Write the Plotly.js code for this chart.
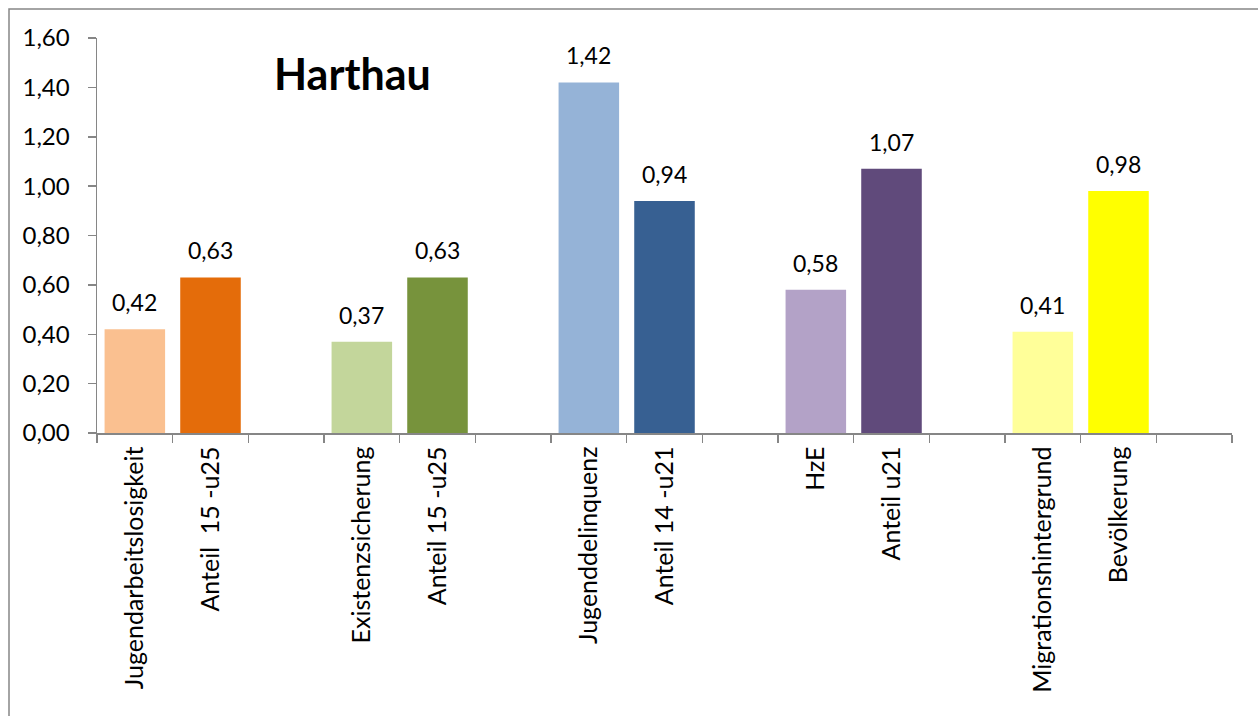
<!DOCTYPE html>
<html>
<head>
<meta charset="utf-8">
<script src="https://cdn.plot.ly/plotly-3.0.1.min.js"></script>
<style>html,body{margin:0;padding:0;background:#fff;}#chart{width:1258px;height:716px;}</style>
</head>
<body>
<div id="chart"></div>
<script>
const categories = ["Jugendarbeitslosigkeit", "Anteil  15 -u25", " ", "Existenzsicherung", "Anteil 15 -u25", "  ", "Jugenddelinquenz", "Anteil 14 -u21", "   ", "HzE", "Anteil u21", "    ", "Migrationshintergrund", "Bevölkerung", "     "];
const values = [0.42, 0.63, null, 0.37, 0.63, null, 1.42, 0.94, null, 0.58, 1.07, null, 0.41, 0.98, null];
const barColors = ["#FAC090", "#E46C0A", "#FFFFFF", "#C3D69B", "#77933C", "#FFFFFF", "#95B3D7", "#376092", "#FFFFFF", "#B3A2C7", "#604A7B", "#FFFFFF", "#FFFF99", "#FFFF00", "#FFFFFF"];
const yTicks = [0, 0.2, 0.4, 0.6, 0.8, 1.0, 1.2, 1.4, 1.6];
const chartTitle = "Harthau";

const FONT = "Lato, 'Open Sans', sans-serif";

const trace = {
  type: "bar",
  x: categories,
  y: values,
  marker: {color: barColors, line: {width: 0}},
  width: 0.8,
  hoverinfo: "skip"
};

const annotations = [];
categories.forEach((c, i) => {
  if (values[i] === null) return;
  annotations.push({
    x: c, y: values[i], xref: "x", yref: "y",
    text: values[i].toFixed(2).replace(".", ","),
    showarrow: false, yanchor: "middle", yshift: 27,
    font: {family: FONT, size: 23, color: "#000"}
  });
});
annotations.push({
  xref: "paper", yref: "paper", x: (352 - 97) / 1135, y: (433 - 73) / 395,
  text: "<b>" + chartTitle + "</b>", showarrow: false,
  xanchor: "center", yanchor: "middle",
  font: {family: FONT, size: 43, color: "#000"}
});

const layout = {
  width: 1258, height: 716,
  margin: {l: 97, r: 26, t: 38, b: 283},
  paper_bgcolor: "#fff", plot_bgcolor: "#fff",
  separators: ",.",
  showlegend: false,
  bargap: 0.2,
  font: {family: FONT, color: "#000"},
  xaxis: {
    type: "category",
    range: [-0.5, 14.5],
    tickson: "boundaries",
    ticks: "outside", ticklen: 8, tickwidth: 1.5, tickcolor: "#868686",
    showline: true, linecolor: "#868686", linewidth: 1.5,
    showgrid: false, zeroline: false,
    tickangle: -90,
    ticklabelstandoff: 2,
    tickfont: {family: FONT, size: 25, color: "#000"},
    fixedrange: true
  },
  yaxis: {
    range: [0, 1.6],
    tickvals: yTicks,
    tickformat: ".2f",
    ticks: "outside", ticklen: 8, tickwidth: 1.5, tickcolor: "#868686",
    showline: true, linecolor: "#868686", linewidth: 1.5,
    showgrid: false, zeroline: false,
    ticklabelstandoff: 13,
    tickfont: {family: FONT, size: 24, color: "#000"},
    fixedrange: true
  },
  annotations: annotations,
  shapes: [{
    type: "rect", xref: "paper", yref: "paper",
    x0: (9 - 97) / 1135, x1: (1270 - 97) / 1135,
    y0: (433 - 730) / 395, y1: (433 - 9) / 395,
    line: {color: "#868686", width: 1.5}, fillcolor: "rgba(0,0,0,0)", layer: "below"
  }]
};

Plotly.newPlot("chart", [trace], layout, {displayModeBar: false, staticPlot: true});
</script>
</body>
</html>
